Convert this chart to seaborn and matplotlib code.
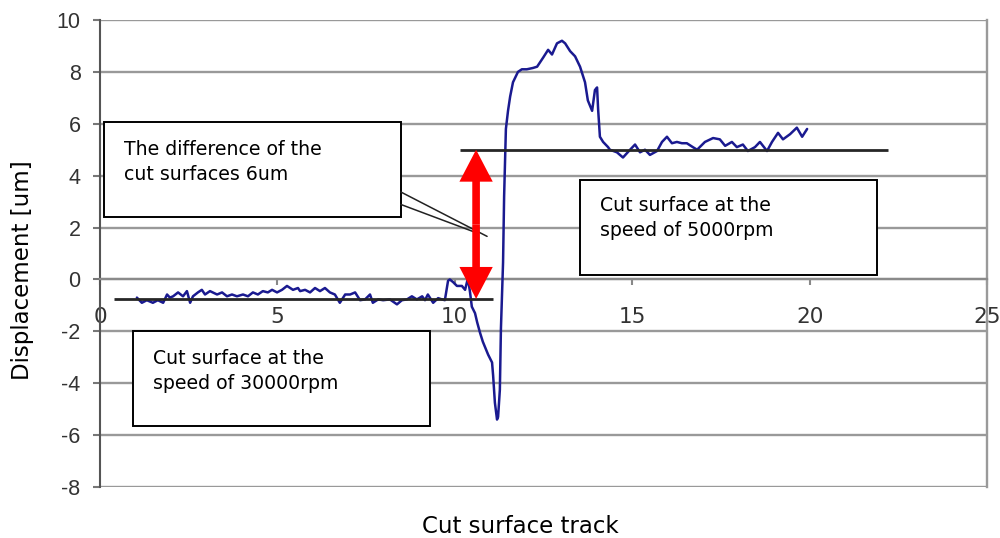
import numpy as np
import pandas as pd
import matplotlib
matplotlib.use("Agg")
import matplotlib.pyplot as plt
import seaborn as sns
from matplotlib.patches import Rectangle, FancyArrowPatch, ArrowStyle

# ---- data ----
track_x = [1.04, 1.18, 1.32, 1.49, 1.63, 1.78, 1.89, 1.97, 2.06, 2.20, 2.34, 2.45, 2.54, 2.62,
           2.76, 2.87, 2.96, 3.10, 3.30, 3.44, 3.58, 3.72, 3.86, 4.03, 4.17, 4.31, 4.45, 4.59,
           4.73, 4.85, 4.99, 5.13, 5.27, 5.44, 5.58, 5.64, 5.78, 5.92, 6.06, 6.20, 6.34, 6.48,
           6.62, 6.76, 6.91, 7.05, 7.19, 7.33, 7.47, 7.61, 7.69, 7.84, 7.98, 8.17, 8.37, 8.51,
           8.65, 8.79, 8.93, 9.08, 9.16, 9.24, 9.39, 9.53, 9.64, 9.72, 9.81, 9.86, 9.95, 10.06,
           10.20, 10.29, 10.37, 10.43, 10.48, 10.57, 10.63, 10.71, 10.79, 10.94, 11.05, 11.08,
           11.13, 11.19, 11.22, 11.27, 11.30, 11.36, 11.39, 11.44, 11.50, 11.56, 11.64, 11.78,
           11.89, 12.03, 12.20, 12.32, 12.49, 12.63, 12.74, 12.88, 13.02, 13.11, 13.25, 13.39,
           13.53, 13.67, 13.75, 13.87, 13.95, 14.01, 14.04, 14.09, 14.18, 14.32, 14.37, 14.57,
           14.74, 14.94, 15.08, 15.22, 15.36, 15.50, 15.70, 15.84, 15.98, 16.12, 16.26, 16.40,
           16.54, 16.71, 16.83, 17.05, 17.28, 17.47, 17.62, 17.81, 17.95, 18.12, 18.26, 18.46,
           18.60, 18.80, 18.94, 19.11, 19.25, 19.45, 19.64, 19.79, 19.93]
displacement = [-0.70, -0.90, -0.80, -0.90, -0.80, -0.90, -0.58, -0.70, -0.65, -0.50, -0.65, -0.45,
                -0.90, -0.65, -0.50, -0.40, -0.58, -0.45, -0.58, -0.50, -0.65, -0.58, -0.65, -0.58,
                -0.65, -0.50, -0.58, -0.45, -0.50, -0.40, -0.50, -0.40, -0.25, -0.40, -0.33, -0.45,
                -0.40, -0.50, -0.33, -0.45, -0.33, -0.50, -0.58, -0.90, -0.58, -0.58, -0.50, -0.80,
                -0.77, -0.58, -0.90, -0.77, -0.80, -0.77, -0.96, -0.80, -0.77, -0.65, -0.77, -0.65,
                -0.80, -0.58, -0.90, -0.72, -0.77, -0.80, -0.05, 0.00, -0.10, -0.25, -0.25, -0.40,
                0.05, -0.50, -1.05, -1.30, -1.65, -2.05, -2.40, -2.90, -3.20, -3.70, -4.75, -5.40,
                -5.30, -4.25, -1.90, 0.65, 3.20, 5.80, 6.50, 7.05, 7.60, 8.00, 8.10, 8.10, 8.15,
                8.20, 8.55, 8.85, 8.67, 9.10, 9.20, 9.10, 8.80, 8.60, 8.20, 7.60, 6.90, 6.50, 7.30,
                7.40, 6.55, 5.50, 5.30, 5.10, 5.00, 4.90, 4.70, 5.00, 5.20, 4.90, 5.00, 4.80, 4.95,
                5.30, 5.50, 5.25, 5.30, 5.25, 5.25, 5.10, 5.00, 5.30, 5.45, 5.40, 5.15, 5.30, 5.10,
                5.20, 4.95, 5.10, 5.30, 4.95, 5.30, 5.65, 5.40, 5.60, 5.85, 5.50, 5.80]

ref_levels = [-0.75, 5.0]
ref_start = [0.4, 10.15]
ref_end = [11.07, 22.2]

arrow_x = 10.6
arrow_low = -0.75
arrow_high = 5.0

x_ticks = [0, 5, 10, 15, 20, 25]
x_tick_labels = ["0", "5", "10", "15", "20", "25"]
y_ticks = [-8, -6, -4, -2, 0, 2, 4, 6, 8, 10]
y_tick_labels = ["-8", "-6", "-4", "-2", "0", "2", "4", "6", "8", "10"]

x_label = "Cut surface track"
y_label = "Displacement [um]"

note_diff = "The difference of the\ncut surfaces 6um"
note_5000 = "Cut surface at the\nspeed of 5000rpm"
note_30000 = "Cut surface at the\nspeed of 30000rpm"

# ---- styling ----
sns.set_theme(style="white")
plt.rcParams["font.family"] = ["DejaVu Sans"]
plt.rcParams["axes.unicode_minus"] = False

fig = plt.figure(figsize=(10, 5.38), dpi=100)
ax = fig.add_axes([0.100, 51 / 538, 0.887, 467 / 538])

df = pd.DataFrame({"x": track_x, "y": displacement})
sns.lineplot(data=df, x="x", y="y", ax=ax, color="#1a1a90", lw=1.8,
             sort=False, estimator=None, zorder=3)

ax.set_xlim(0, 25)
ax.set_ylim(-8, 10)
ax.set_xticks(x_ticks, labels=x_tick_labels, fontfamily="Liberation Sans")
ax.set_yticks(y_ticks, labels=y_tick_labels, fontfamily="Liberation Sans")
ax.set_xlabel("")
ax.set_ylabel("")

ax.grid(axis="y", color="#999999", lw=1.7)
ax.grid(axis="x", visible=False)
ax.set_axisbelow(True)

ax.spines["top"].set_visible(False)
ax.spines["left"].set_color("#555555")
ax.spines["left"].set_linewidth(1.5)
ax.spines["right"].set_color("#9a9a9a")
ax.spines["right"].set_linewidth(1.7)
ax.spines["bottom"].set_position(("data", 0))
ax.spines["bottom"].set_color("#8a8a8a")
ax.spines["bottom"].set_linewidth(1.6)

ax.tick_params(axis="y", which="major", direction="out", length=5, width=1.5,
               color="#777777", pad=9, labelsize=15.5, labelcolor="#333333", left=True)
ax.tick_params(axis="x", which="major", direction="out", length=4.5, width=1.5,
               color="#888888", pad=15.5, labelsize=15.5, labelcolor="#333333", bottom=True)

# reference levels
ax.hlines(ref_levels, ref_start, ref_end, colors="#262626", lw=2.0, zorder=4)

# annotation boxes (data coordinates); text anchored at baseline of last line
boxes = [
    ((0.11, 2.39), 8.37, 3.66, note_diff, (0.68, 3.815)),
    ((13.53, 0.19), 8.37, 3.66, note_5000, (14.09, 1.66)),
    ((0.93, -5.63), 8.37, 3.63, note_30000, (1.49, -4.24)),
]
for (x0, y0), w, h, txt, (tx, ty) in boxes:
    ax.add_patch(Rectangle((x0, y0), w, h, facecolor="white", edgecolor="black",
                           lw=1.4, zorder=6))
    ax.text(tx, ty, txt, fontsize=13.6, color="black", ha="left", va="baseline",
            linespacing=1.45, zorder=7)

# callout lines
ax.plot([8.48, 10.91], [3.37, 1.66], color="#222222", lw=1.1, zorder=6)
ax.plot([8.48, 10.51], [2.89, 1.85], color="#222222", lw=1.1, zorder=6)

# red double arrow
mid = (arrow_low + arrow_high) / 2
style = ArrowStyle.Simple(head_length=2.3, head_width=2.4, tail_width=0.55)
for end in (arrow_high, arrow_low):
    ax.add_patch(FancyArrowPatch((arrow_x, mid), (arrow_x, end), arrowstyle=style,
                                 mutation_scale=10, facecolor="#ff0000",
                                 edgecolor="none", lw=0, shrinkA=0, shrinkB=0,
                                 zorder=8))

fig.text(0.52, 5 / 538, x_label, ha="center", va="baseline", fontsize=16.5, color="black")
fig.text(0.023, 0.498, y_label, ha="center", va="center", rotation=90,
         fontsize=16.5, color="black")

fig.savefig("out.png", dpi=100)
